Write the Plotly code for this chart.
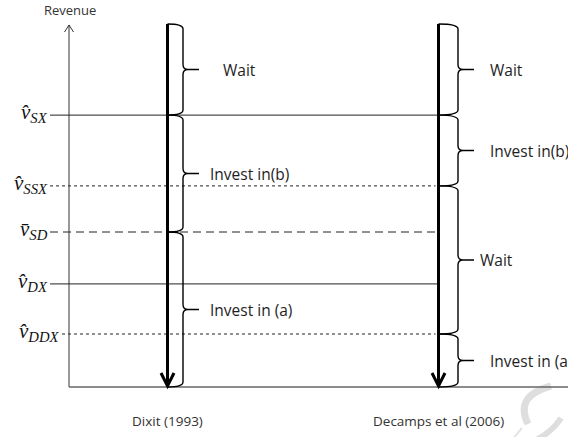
import plotly.graph_objects as go

# ---- data (revenue levels, arbitrary units: baseline 0, top 100) ----
threshold_names = ["SX", "SSX", "SD", "DX", "DDX"]
threshold_marks = ["\u0302", "\u0302", "\u0304", "\u0302", "\u0302"]  # hat / bar
threshold_levels = [74.9, 55.4, 42.7, 28.4, 14.6]
threshold_styles = ["solid", "3px,3px", "8px,5px", "solid", "3px,3px"]
top_level = 100.0
base_level = 0.0

models = ["Dixit (1993)", "Decamps et al (2006)"]
dixit_bounds = [100.0, 74.9, 42.7, 0.0]
dixit_labels = ["Wait", "Invest in(b)", "Invest in (a)"]
decamps_bounds = [100.0, 74.9, 55.4, 14.6, 0.0]
decamps_labels = ["Wait", "Invest in(b)", "Wait", "Invest in (a)"]

# ---- layout geometry (pixels) ----
W, H = 568, 437
BASE_PX = 387.0
K = 3.63  # px per revenue unit
def u(px):
    return px / K
def lv(py):
    return (BASE_PX - py) / K

axis_x = 69
dixit_x, dixit_brace, dixit_tip = 167.5, 183, 199
decamps_x, decamps_brace, decamps_tip = 438.5, 458, 474
dixit_text_x = [221, 208, 208]
decamps_text_x = [488, 488, 478, 488]

fig = go.Figure()
shapes = []
ann = []
LINE = "#222222"
TXT = "#1e1e1e"

# faint watermark swoosh (bottom right)
shapes.append(dict(type="path", path=f"M 551,{lv(386)} Q 514,{lv(396)} 528,{lv(424)}",
                   line=dict(color="#dedede", width=7), layer="below"))
shapes.append(dict(type="path", path=f"M 561,{lv(418)} Q 552,{lv(432)} 536,{lv(440)}",
                   line=dict(color="#dedede", width=6), layer="below"))
shapes.append(dict(type="path", path=f"M 522,{lv(428)} L 512,{lv(440)}",
                   line=dict(color="#e4e4e4", width=2), layer="below"))

# y axis with open arrow
tipy = lv(25)
shapes.append(dict(type="line", x0=axis_x, x1=axis_x, y0=base_level, y1=tipy,
                   line=dict(color="#333333", width=1)))
shapes.append(dict(type="path",
                   path=f"M {axis_x-4.5},{tipy-u(7)} L {axis_x},{tipy} L {axis_x+4.5},{tipy-u(7)}",
                   line=dict(color="#333333", width=1)))
# baseline
shapes.append(dict(type="line", x0=axis_x, x1=W, y0=base_level, y1=base_level,
                   line=dict(color="#666666", width=1.5)))

# threshold lines and labels
for name, mark, lvl, dash in zip(threshold_names, threshold_marks, threshold_levels, threshold_styles):
    x0 = 62 if name == "DDX" else 50
    x1 = decamps_x if dash == "solid" else decamps_x - 3
    shapes.append(dict(type="line", x0=x0, x1=x1, y0=lvl, y1=lvl,
                       line=dict(color=LINE, width=1, dash=dash)))
    ann.append(dict(x=x0, y=lvl + u(2), xref="x", yref="y", xanchor="right", yanchor="middle",
                    showarrow=False,
                    text=f"<i>v{mark}</i><sub><i>{name}</i></sub>",
                    font=dict(family="Liberation Serif, Times New Roman, serif", size=21,
                              color="#111111")))

def brace(xa, xb, xt, ytop, ybot):
    r = u(5)
    ym = (ytop + ybot) / 2
    return (f"M {xa},{ytop} Q {xb},{ytop} {xb},{ytop - r} "
            f"L {xb},{ym + r} Q {xb},{ym} {xb + 5},{ym} L {xt},{ym} "
            f"M {xb + 5},{ym} Q {xb},{ym} {xb},{ym - r} "
            f"L {xb},{ybot + r} Q {xb},{ybot} {xa},{ybot}")

def state_arrow(x):
    shapes.append(dict(type="line", x0=x, x1=x, y0=top_level, y1=base_level + u(2),
                       line=dict(color="black", width=3)))
    shapes.append(dict(type="path",
                       path=f"M {x-6.5},{base_level + u(14)} L {x},{base_level + u(1)} L {x+6.5},{base_level + u(14)}",
                       line=dict(color="black", width=3)))

for x, xb, xt, bounds, labels, tx in [
    (dixit_x, dixit_brace, dixit_tip, dixit_bounds, dixit_labels, dixit_text_x),
    (decamps_x, decamps_brace, decamps_tip, decamps_bounds, decamps_labels, decamps_text_x),
]:
    state_arrow(x)
    for i, lab in enumerate(labels):
        yt, yb = bounds[i], bounds[i + 1]
        shapes.append(dict(type="path", path=brace(x, xb, xt, yt, yb),
                           line=dict(color="black", width=1.4)))
        ann.append(dict(x=tx[i], y=(yt + yb) / 2, xref="x", yref="y", xanchor="left",
                        yanchor="middle", showarrow=False, text=lab,
                        font=dict(family="Open Sans", size=15.5, color=TXT)))

# model names
for name, x in zip(models, [dixit_x, decamps_x]):
    ann.append(dict(x=x, y=lv(421), xref="x", yref="y", xanchor="center",
                    yanchor="middle", showarrow=False, text=name,
                    font=dict(family="Open Sans", size=13.5, color="#333333")))

ann.append(dict(x=axis_x + 1, y=lv(10), xref="x", yref="y", xanchor="center",
                yanchor="middle", showarrow=False, text="Revenue",
                font=dict(family="Open Sans", size=13, color="#333333")))

fig.update_layout(
    width=W, height=H, margin=dict(l=0, r=0, t=0, b=0),
    paper_bgcolor="white", plot_bgcolor="white",
    xaxis=dict(range=[0, W], visible=False, fixedrange=True),
    yaxis=dict(range=[lv(H), lv(0)], visible=False, fixedrange=True),
    shapes=shapes, annotations=ann, showlegend=False,
)
fig.write_html("out.html", config={"displayModeBar": False},
               post_script="document.body.style.margin='0';")
